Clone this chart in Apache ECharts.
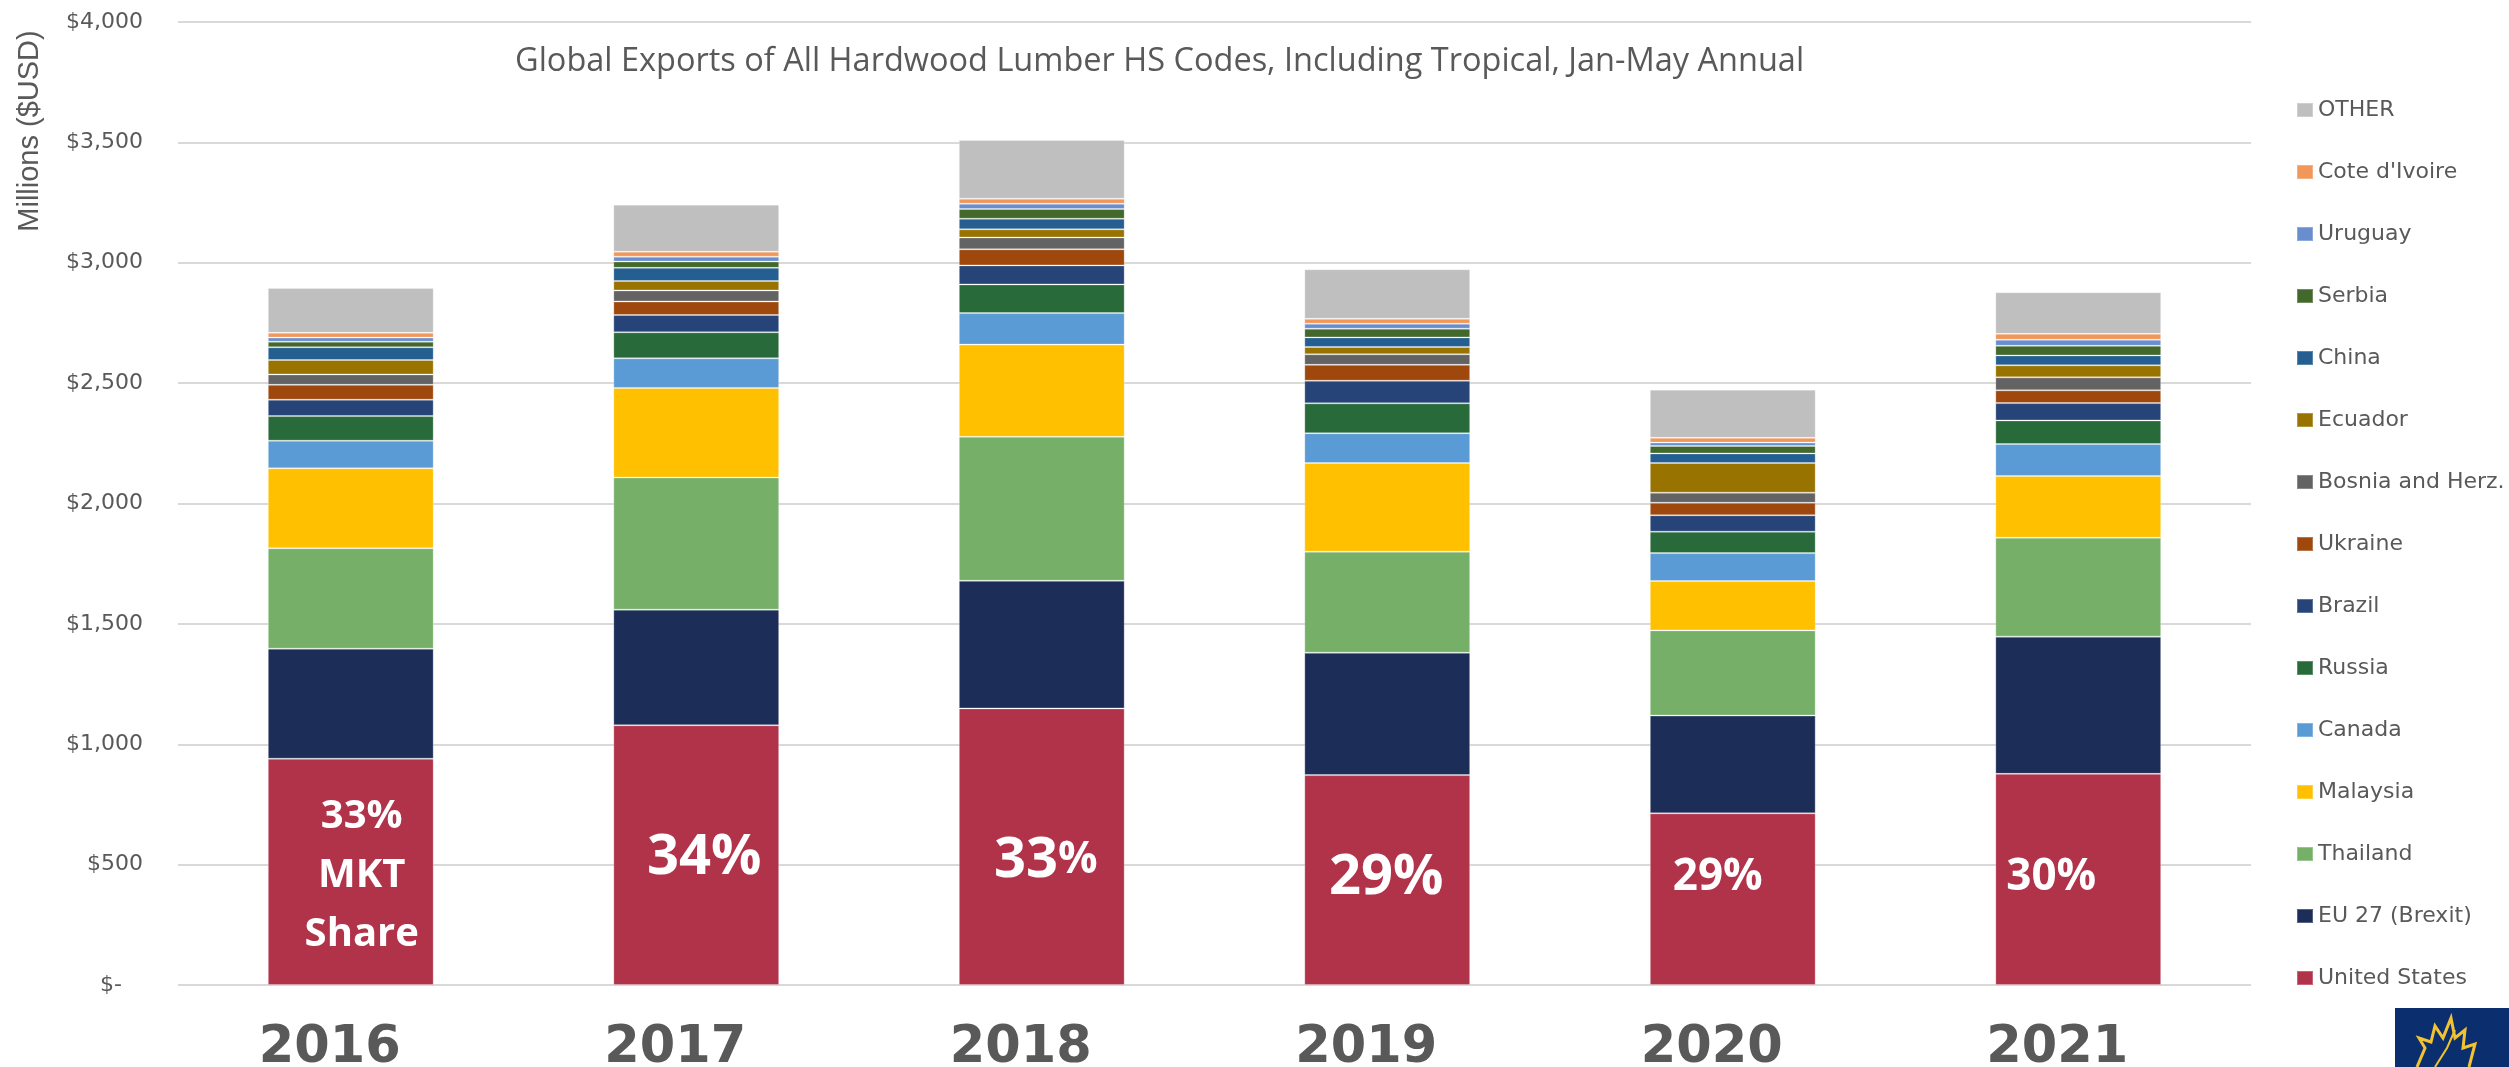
<!DOCTYPE html>
<html>
<head>
<meta charset="utf-8">
<script src="https://cdn.jsdelivr.net/npm/echarts@6/dist/echarts.min.js"></script>
<style>
  html, body { margin: 0; padding: 0; background: #fff; }
  #chart { width: 2509px; height: 1067px; }
</style>
</head>
<body>
<div id="chart"></div>
<script>
// Jan-May exports, millions USD
const years = ['2016', '2017', '2018', '2019', '2020', '2021'];

const unitedStates = [940, 1079, 1149, 872, 713, 877];
const eu27 = [457, 480, 530, 508, 406, 570];
const thailand = [417, 549, 598, 420, 354, 411];
const malaysia = [332, 372, 383, 368, 205, 256];
const canada = [115, 123, 131, 124, 116, 133];
const russia = [102, 108, 119, 124, 89, 98];
const brazil = [68, 72, 79, 94, 68, 72];
const ukraine = [62, 56, 67, 66, 52, 53];
const bosnia = [43, 46, 49, 44, 42, 54];
const ecuador = [60, 39, 34, 30, 123, 50];
const china = [53, 55, 44, 40, 40, 41];
const serbia = [23, 26, 40, 36, 31, 40];
const uruguay = [17, 20, 22, 21, 14, 25];
const coteDIvoire = [20, 21, 21, 20, 20, 25];
const other = [186, 195, 244, 206, 200, 172];

// US market share labels
const usShare = ['33', '34', '33', '29', '29', '30'];
const shareNote = ['MKT\nShare', '', '', '', '', ''];

const yTicks = [0, 500, 1000, 1500, 2000, 2500, 3000, 3500, 4000];

const seriesList = [
  { name: 'United States', data: unitedStates, color: '#B1334A' },
  { name: 'EU 27 (Brexit)', data: eu27, color: '#1C2D58' },
  { name: 'Thailand', data: thailand, color: '#76B068' },
  { name: 'Malaysia', data: malaysia, color: '#FFC000' },
  { name: 'Canada', data: canada, color: '#5B9BD5' },
  { name: 'Russia', data: russia, color: '#286A3A' },
  { name: 'Brazil', data: brazil, color: '#264478' },
  { name: 'Ukraine', data: ukraine, color: '#9E480E' },
  { name: 'Bosnia and Herz.', data: bosnia, color: '#636363' },
  { name: 'Ecuador', data: ecuador, color: '#997300' },
  { name: 'China', data: china, color: '#255E91' },
  { name: 'Serbia', data: serbia, color: '#43682B' },
  { name: 'Uruguay', data: uruguay, color: '#698ED0' },
  { name: "Cote d'Ivoire", data: coteDIvoire, color: '#F1975A' },
  { name: 'OTHER', data: other, color: '#BFBFBF' }
];

// label look per bar (size of number, size of %, nudge)
const numSize = [40, 56, 56, 56, 44, 44];
const pctSize = [40, 56, 44, 56, 44, 44];
const nudge = [[11, 4], [8, 3], [4, 14], [-1, -2], [-15, -22], [-27, -2]];

const textGray = '#595959';

const series = seriesList.map((s, idx) => {
  const item = {
    name: s.name,
    type: 'bar',
    stack: 'total',
    barWidth: '48%',
    itemStyle: { color: s.color, borderColor: 'rgba(255,255,255,0.25)', borderWidth: 1 },
    emphasis: { disabled: true },
    data: s.data
  };
  if (idx === 0) {
    item.data = s.data.map((v, i) => ({
      value: v,
      label: {
        offset: nudge[i],
        rich: {
          n: { fontSize: numSize[i], fontWeight: 'bold', color: '#fff', fontFamily: 'Open Sans', lineHeight: 59 },
          p: { fontSize: pctSize[i], fontWeight: 'bold', color: '#fff', fontFamily: 'Open Sans', lineHeight: 59 }
        }
      }
    }));
    item.label = {
      show: true,
      position: 'inside',
      align: 'center',
      formatter: (p) => {
        let txt = '{n|' + usShare[p.dataIndex] + '}{p|%}';
        if (shareNote[p.dataIndex]) {
          txt += shareNote[p.dataIndex].split('\n').map(t => '\n{n|' + t + '}').join('');
        }
        return txt;
      }
    };
  }
  return item;
});

const chart = echarts.init(document.getElementById('chart'));
chart.setOption({
  animation: false,
  backgroundColor: '#fff',
  title: {
    text: 'Global Exports of All Hardwood Lumber HS Codes, Including Tropical, Jan-May Annual',
    left: 515,
    top: 45,
    padding: 0,
    textStyle: { fontFamily: 'Open Sans', fontSize: 32.5, fontWeight: 'normal', color: textGray }
  },
  grid: { left: 178, right: 258, top: 22, bottom: 82, containLabel: false, outerBoundsMode: 'none' },
  legend: {
    orient: 'vertical',
    left: 2291,
    top: 94,
    itemWidth: 16,
    itemHeight: 14,
    itemGap: 40,
    icon: 'rect',
    data: seriesList.map(s => s.name).reverse(),
    textStyle: { fontFamily: 'DejaVu Sans', fontSize: 22, color: textGray }
  },
  xAxis: {
    type: 'category',
    data: years,
    axisLine: { show: false },
    axisTick: { show: false },
    axisLabel: {
      margin: 38,
      padding: [0, 42, 0, 0],
      fontFamily: 'DejaVu Sans',
      fontWeight: 'bold',
      fontSize: 51,
      color: textGray
    }
  },
  yAxis: {
    type: 'value',
    min: yTicks[0],
    max: yTicks[yTicks.length - 1],
    interval: yTicks[1] - yTicks[0],
    axisLine: { show: false },
    axisTick: { show: false },
    splitLine: { lineStyle: { color: '#D9D9D9', width: 2 } },
    axisLabel: {
      margin: 35,
      fontFamily: 'DejaVu Sans',
      fontSize: 22,
      color: textGray,
      formatter: v => v === 0 ? '$-   ' : '$' + v.toLocaleString('en-US')
    }
  },
  graphic: [
    {
      type: 'text',
      x: 30,
      y: 131,
      rotation: Math.PI / 2,
      style: {
        text: 'Millions ($USD)',
        font: '29px "Liberation Sans Narrow", "Liberation Sans", sans-serif',
        fill: textGray,
        align: 'center',
        verticalAlign: 'middle'
      }
    },
    {
      type: 'group',
      left: 2395,
      top: 1008,
      children: [
        { type: 'rect', shape: { x: 0, y: 0, width: 114, height: 59 }, style: { fill: '#0B2F6E' } },
        { type: 'polyline', shape: { points: [[22, 59], [30, 40], [24, 30], [36, 34], [40, 18], [48, 30], [56, 10], [60, 30], [70, 22], [68, 40], [80, 36], [74, 59]] }, style: { stroke: '#F2C230', lineWidth: 3, fill: null } },
        { type: 'polyline', shape: { points: [[40, 59], [52, 40], [60, 22]] }, style: { stroke: '#F2C230', lineWidth: 2, fill: null } }
      ]
    }
  ],
  series: series
});
</script>
</body>
</html>
